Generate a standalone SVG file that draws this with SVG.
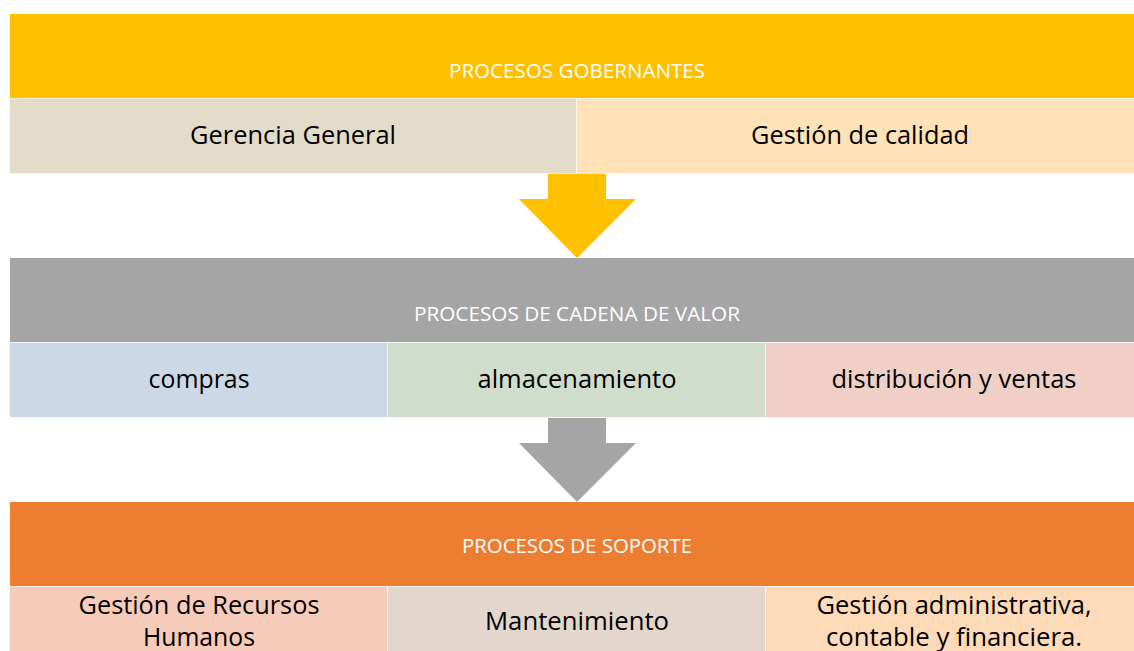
<svg xmlns="http://www.w3.org/2000/svg" width="1134" height="651" viewBox="0 0 1134 651">
<style>
.hdr{font-family:"Open Sans","Liberation Sans",sans-serif;font-size:20px;fill:#ffffff;text-anchor:middle}
.cell{font-family:"Open Sans","Liberation Sans",sans-serif;font-size:25px;fill:#000000;text-anchor:middle}
.cb{stroke:#ffffff;stroke-opacity:0.5;stroke-width:1}
</style>
<rect width="1134" height="651" fill="#ffffff"/>
<g id="connectors">
<polygon points="548,174 606,174 606,199 636,199 577,258 519,199 548,199" fill="#FFC000"/>
<polygon points="548,418 606,418 606,443 636,443 577,502 519,443 548,443" fill="#A5A5A5"/>
</g>
<g id="gobernantes">
<rect x="10" y="14" width="1134" height="84" fill="#FFC000"/>
<text class="hdr" x="577" y="78" textLength="256" lengthAdjust="spacingAndGlyphs">PROCESOS GOBERNANTES</text>
</g>
<g id="gerencia">
<rect class="cb" x="9.5" y="98.5" width="567" height="75" fill="#E3DCC8"/>
<text class="cell" x="293" y="144" textLength="206" lengthAdjust="spacingAndGlyphs">Gerencia General</text>
</g>
<g id="calidad">
<rect class="cb" x="576.5" y="98.5" width="568" height="75" fill="#FFE2B8"/>
<text class="cell" x="860" y="144" textLength="218" lengthAdjust="spacingAndGlyphs">Gestión de calidad</text>
</g>
<g id="cadena">
<rect x="10" y="258" width="1134" height="84" fill="#A5A5A5"/>
<text class="hdr" x="577" y="321" textLength="326" lengthAdjust="spacingAndGlyphs">PROCESOS DE CADENA DE VALOR</text>
</g>
<g id="compras">
<rect class="cb" x="9.5" y="342.5" width="378" height="75" fill="#CDD8E6"/>
<text class="cell" x="199" y="388" textLength="101" lengthAdjust="spacingAndGlyphs">compras</text>
</g>
<g id="almacenamiento">
<rect class="cb" x="387.5" y="342.5" width="378" height="75" fill="#D0DDCC"/>
<text class="cell" x="577" y="388" textLength="199" lengthAdjust="spacingAndGlyphs">almacenamiento</text>
</g>
<g id="distribucion">
<rect class="cb" x="765.5" y="342.5" width="379" height="75" fill="#F0D0C6"/>
<text class="cell" x="954" y="388" textLength="245" lengthAdjust="spacingAndGlyphs">distribución y ventas</text>
</g>
<g id="soporte">
<rect x="10" y="502" width="1134" height="84" fill="#ED7D31"/>
<text class="hdr" x="577" y="553" textLength="230" lengthAdjust="spacingAndGlyphs">PROCESOS DE SOPORTE</text>
</g>
<g id="recursos">
<rect class="cb" x="9.5" y="586.5" width="378" height="70" fill="#F7CBBA"/>
<text class="cell" x="199" y="614" textLength="241" lengthAdjust="spacingAndGlyphs">Gestión de Recursos</text>
<text class="cell" x="199" y="646" textLength="112" lengthAdjust="spacingAndGlyphs">Humanos</text>
</g>
<g id="mantenimiento">
<rect class="cb" x="387.5" y="586.5" width="378" height="70" fill="#E3D6CC"/>
<text class="cell" x="577" y="630" textLength="184" lengthAdjust="spacingAndGlyphs">Mantenimiento</text>
</g>
<g id="administrativa">
<rect class="cb" x="765.5" y="586.5" width="379" height="70" fill="#FDDBB8"/>
<text class="cell" x="954" y="614" textLength="275" lengthAdjust="spacingAndGlyphs">Gestión administrativa,</text>
<text class="cell" x="954" y="646" textLength="256" lengthAdjust="spacingAndGlyphs">contable y financiera.</text>
</g>
</svg>
